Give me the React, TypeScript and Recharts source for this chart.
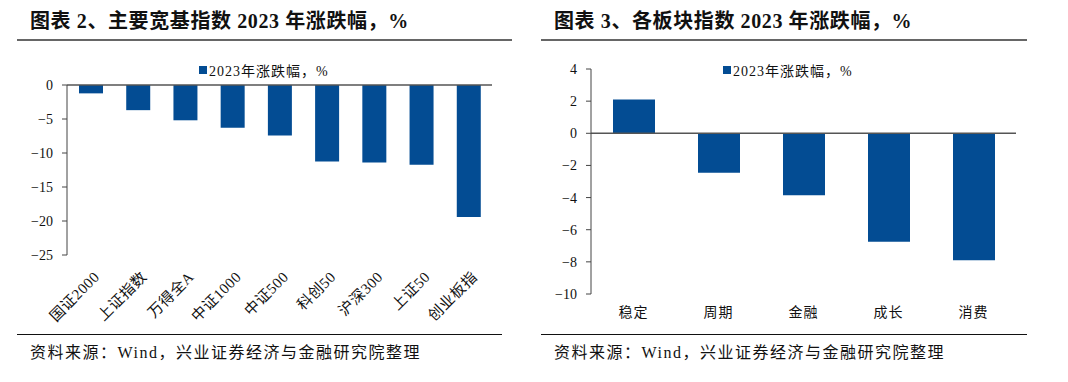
import React from "react";
import { BarChart, Bar, XAxis, YAxis, ReferenceLine } from "recharts";

const leftCategories = ["国证2000", "上证指数", "万得全A", "中证1000", "中证500", "科创50", "沪深300", "上证50", "创业板指"];
const leftValues = [-1.23, -3.7, -5.19, -6.28, -7.42, -11.24, -11.38, -11.73, -19.41];
const leftTicks = [-25, -20, -15, -10, -5, 0];

const rightCategories = ["稳定", "周期", "金融", "成长", "消费"];
const rightValues = [2.1, -2.45, -3.85, -6.75, -7.9];
const rightTicks = [-10, -8, -6, -4, -2, 0, 2, 4];

const seriesName = "2023年涨跌幅，%";
const leftTitle = "图表 2、主要宽基指数 2023 年涨跌幅，%";
const rightTitle = "图表 3、各板块指数 2023 年涨跌幅，%";
const sourceText = "资料来源：Wind，兴业证券经济与金融研究院整理";

const leftData = leftCategories.map((name, i) => ({ name, value: leftValues[i] }));
const rightData = rightCategories.map((name, i) => ({ name, value: rightValues[i] }));

const BAR = "#034c93";
const FONT = "'Liberation Serif', 'Noto Sans CJK SC', serif";
const AXIS = "#444";

const fmt = (v: number) => String(v).replace("-", "−");

const RotTick = (props: any) => {
  const { x, y, payload } = props;
  return (
    <g transform={`translate(${x + 7},${y + 12})`}>
      <text
        textAnchor="end"
        transform="rotate(-45)"
        fontSize={15}
        fill="#111"
        fontFamily={FONT}
        dy={4}
        letterSpacing={0.5}
      >
        {payload.value}
      </text>
    </g>
  );
};

const Legendish = ({ left, top }: { left: number; top: number }) => (
  <div
    style={{
      position: "absolute",
      left,
      top,
      display: "flex",
      alignItems: "center",
      fontFamily: FONT,
      fontSize: 14,
      color: "#111",
      letterSpacing: 1,
      whiteSpace: "nowrap",
    }}
  >
    <span style={{ display: "inline-block", width: 8, height: 8, background: BAR, marginRight: 2 }} />
    <span>{seriesName}</span>
  </div>
);

const titleStyle: React.CSSProperties = {
  position: "absolute",
  top: 5,
  fontFamily: FONT,
  fontWeight: 700,
  fontSize: 20,
  letterSpacing: 0.6,
  color: "#111",
  whiteSpace: "nowrap",
};

const sourceStyle: React.CSSProperties = {
  position: "absolute",
  top: 339,
  fontFamily: FONT,
  fontSize: 16,
  color: "#111",
  letterSpacing: 1.5,
  whiteSpace: "nowrap",
};

export default function App() {
  return (
    <div style={{ position: "absolute", left: 0, top: 0, width: 1068, height: 382, background: "#fff", overflow: "hidden" }}>
      {/* Left panel */}
      <div style={{ ...titleStyle, left: 30 }}>{leftTitle}</div>
      <div style={{ position: "absolute", left: 17, top: 39, width: 495, height: 2, background: "#666" }} />
      <div style={{ position: "absolute", left: 0, top: 0 }}>
        <BarChart width={534} height={340} data={leftData} margin={{ top: 85, right: 42, left: 0, bottom: 0 }}>
          <XAxis dataKey="name" axisLine={false} tickLine={false} height={85} tick={<RotTick />} interval={0} />
          <YAxis
            domain={[-25, 0]}
            ticks={leftTicks}
            width={67}
            axisLine={{ stroke: AXIS }}
            tickLine={{ stroke: AXIS }}
            tickSize={5}
            tickMargin={9}
            tickFormatter={fmt}
            tick={{ fontSize: 14, fill: "#111", fontFamily: FONT }}
          />
          <ReferenceLine y={0} stroke="#555" strokeWidth={1.5} />
          <Bar dataKey="value" fill={BAR} barSize={24} isAnimationActive={false} />
        </BarChart>
      </div>
      <Legendish left={199} top={60} />
      <div style={{ position: "absolute", left: 17, top: 334, width: 485, height: 1, background: "#111" }} />
      <div style={{ ...sourceStyle, left: 30 }}>{sourceText}</div>

      {/* Right panel */}
      <div style={{ ...titleStyle, left: 554 }}>{rightTitle}</div>
      <div style={{ position: "absolute", left: 541, top: 39, width: 486, height: 2, background: "#666" }} />
      <div style={{ position: "absolute", left: 534, top: 0 }}>
        <BarChart width={534} height={340} data={rightData} margin={{ top: 69, right: 52, left: 0, bottom: 0 }}>
          <XAxis
            dataKey="name"
            axisLine={false}
            tickLine={false}
            height={46}
            interval={0}
            tickMargin={7}
            tick={{ fontSize: 14, fill: "#111", fontFamily: FONT, letterSpacing: 1 }}
          />
          <YAxis
            domain={[-10, 4]}
            ticks={rightTicks}
            width={57}
            axisLine={{ stroke: AXIS }}
            tickLine={{ stroke: AXIS }}
            tickSize={5}
            tickMargin={9}
            tickFormatter={fmt}
            tick={{ fontSize: 14, fill: "#111", fontFamily: FONT }}
          />
          <ReferenceLine y={0} stroke="#555" strokeWidth={1.5} />
          <Bar dataKey="value" fill={BAR} barSize={42} isAnimationActive={false} />
        </BarChart>
      </div>
      <Legendish left={723} top={60} />
      <div style={{ position: "absolute", left: 541, top: 334, width: 486, height: 1, background: "#111" }} />
      <div style={{ ...sourceStyle, left: 554 }}>{sourceText}</div>
    </div>
  );
}
